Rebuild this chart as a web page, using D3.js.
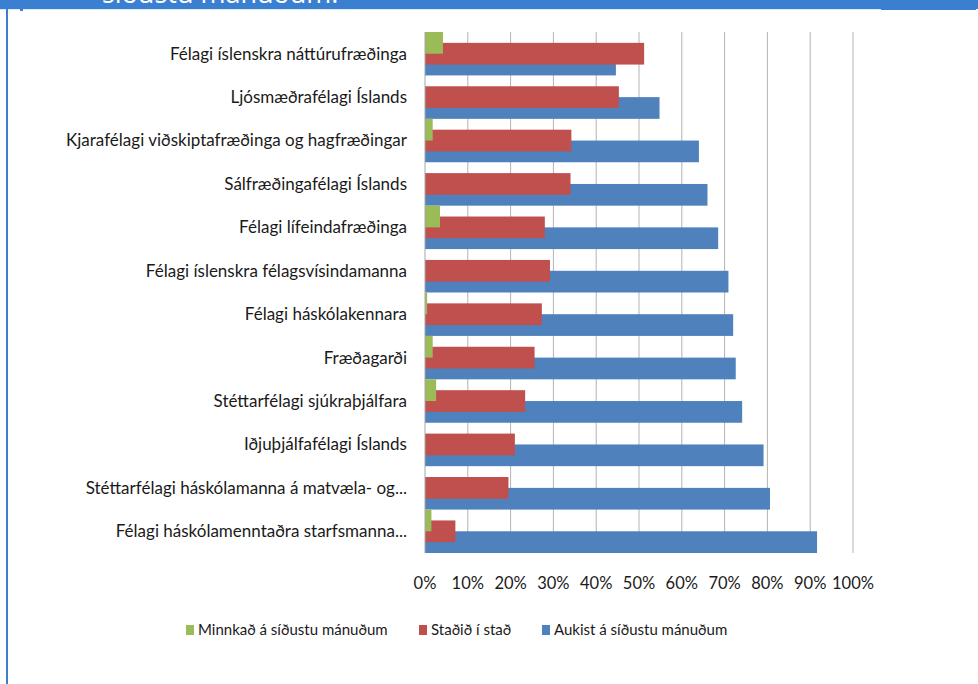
<!DOCTYPE html>
<html>
<head>
<meta charset="utf-8">
<script src="https://cdn.jsdelivr.net/npm/d3@7"></script>
<style>
  body { margin: 0; background: #fff; }
  svg { display: block; font-family: Lato, "Open Sans", sans-serif; }
  .grid line { stroke: #b3b3b3; stroke-width: 1; }
  .cat { font-size: 17px; fill: #1a1a1a; }
  .tick-label { font-size: 16.5px; fill: #1a1a1a; }
  .legend text { font-size: 15px; fill: #1a1a1a; }
</style>
</head>
<body>
<svg id="chart" width="978" height="684"></svg>
<script>
// Categories (top to bottom)
const categories = [
  "Félagi íslenskra náttúrufræðinga",
  "Ljósmæðrafélagi Íslands",
  "Kjarafélagi viðskiptafræðinga og hagfræðingar",
  "Sálfræðingafélagi Íslands",
  "Félagi lífeindafræðinga",
  "Félagi íslenskra félagsvísindamanna",
  "Félagi háskólakennara",
  "Fræðagarði ",
  "Stéttarfélagi sjúkraþjálfara",
  "Iðjuþjálfafélagi Íslands",
  "Stéttarfélagi háskólamanna á matvæla- og...",
  "Félagi háskólamenntaðra starfsmanna..."
];

// Series values (%)
const minnkad = [4.2, 0, 1.8, 0, 3.5, 0, 0.5, 1.8, 2.6, 0, 0, 1.5];
const stadid  = [51.2, 45.3, 34.2, 34.0, 28.0, 29.2, 27.3, 25.6, 23.4, 21.0, 19.5, 7.1];
const aukist  = [44.6, 54.8, 64.0, 66.0, 68.5, 70.9, 72.0, 72.6, 74.1, 79.1, 80.6, 91.6];

const seriesNames = ["Minnkað á síðustu mánuðum", "Staðið í stað", "Aukist á síðustu mánuðum"];
const seriesColors = ["#9bbb59", "#c0504d", "#4f81bd"];
const xTicks = [0, 10, 20, 30, 40, 50, 60, 70, 80, 90, 100];

const svg = d3.select("#chart");
const plot = {left: 425, right: 853, top: 32, bottom: 553};

// Header band (cut-off title)
svg.append("rect").attr("x", 0).attr("y", 0).attr("width", 978).attr("height", 9).attr("fill", "#3a7fd0");
svg.append("rect").attr("x", 881).attr("y", 0).attr("width", 95).attr("height", 10).attr("fill", "#3a7fd0");
svg.append("rect").attr("x", 0).attr("y", 9).attr("width", 881).attr("height", 1).attr("fill", "#d6ecf8");
svg.append("text")
    .attr("x", 102).attr("y", 3)
    .attr("fill", "#fff")
    .style("font-size", "27px")
    .style("font-family", "\"Open Sans\", sans-serif")
    .text("síðustu mánuðum:");
svg.append("rect").attr("x", 6).attr("y", 9).attr("width", 2).attr("height", 675).attr("fill", "#3a7fd0");
svg.append("rect").attr("x", 20).attr("y", 9).attr("width", 3).attr("height", 2).attr("fill", "#3a7fd0");

const x = d3.scaleLinear().domain([0, 100]).range([plot.left, plot.right]);
const y = d3.scaleBand().domain(categories).range([plot.top, plot.bottom]).padding(0);

// Grid lines
svg.append("g").attr("class", "grid")
  .selectAll("line").data(xTicks.slice(1)).enter()
  .append("line")
    .attr("x1", d => x(d)).attr("x2", d => x(d))
    .attr("y1", plot.top).attr("y2", plot.bottom);

// Bars: each bar is half the band tall, offset by a quarter band (50% overlap)
const rows = categories.map((c, i) => ({cat: c, vals: [minnkad[i], stadid[i], aukist[i]]}));
const bh = y.bandwidth() / 2;
// draw blue first, then red, then green so they layer like the original
[2, 1, 0].forEach(s => {
  svg.append("g").selectAll("rect").data(rows).enter()
    .append("rect")
      .attr("x", x(0))
      .attr("y", d => y(d.cat) + s * bh / 2)
      .attr("width", d => x(d.vals[s]) - x(0))
      .attr("height", bh)
      .attr("fill", seriesColors[s]);
});

// Vertical axis line
svg.append("line")
    .attr("x1", x(0)).attr("x2", x(0))
    .attr("y1", plot.top).attr("y2", plot.bottom)
    .attr("stroke", "#a6a6a6");

// Category labels
svg.append("g").selectAll("text").data(categories).enter()
  .append("text")
    .attr("class", "cat")
    .attr("x", 407)
    .attr("y", d => y(d) + y.bandwidth() / 2)
    .attr("dy", "0.35em")
    .attr("text-anchor", "end")
    .text(d => d);

// X tick labels
svg.append("g").selectAll("text").data(xTicks).enter()
  .append("text")
    .attr("class", "tick-label")
    .attr("x", d => x(d))
    .attr("y", 589)
    .attr("text-anchor", "middle")
    .text(d => d + "%");

// Legend
const legendX = [186, 419, 542];
const legend = svg.append("g").attr("class", "legend");
seriesNames.forEach((name, i) => {
  legend.append("rect")
      .attr("x", legendX[i]).attr("y", 625)
      .attr("width", 8).attr("height", 10)
      .attr("fill", seriesColors[i]);
  legend.append("text")
      .attr("x", legendX[i] + 12).attr("y", 635)
      .text(name);
});
</script>
</body>
</html>
